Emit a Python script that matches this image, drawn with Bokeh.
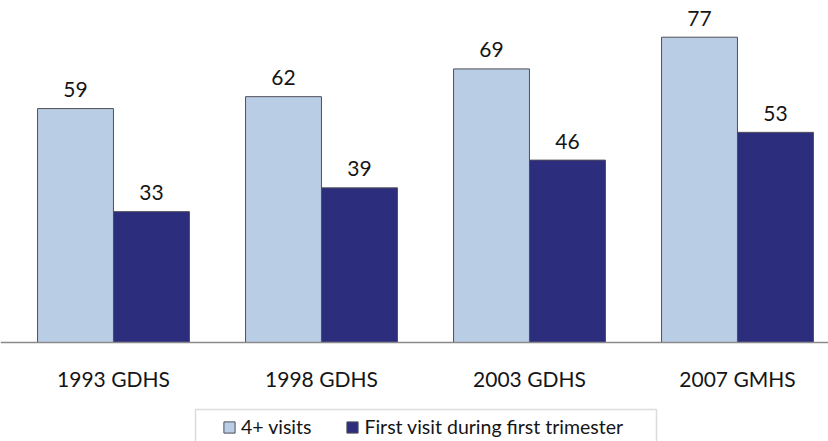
from bokeh.plotting import figure
from bokeh.models import Range1d, Legend, LegendItem, ColumnDataSource, Span, BoxAnnotation
from bokeh.core.properties import value
from bokeh.embed import file_html
from bokeh.resources import INLINE

categories = ["1993 GDHS", "1998 GDHS", "2003 GDHS", "2007 GMHS"]
visits4 = [59, 62, 69, 77]
first_trim = [33, 39, 46, 53]
series_names = ["4+ visits", "First visit during first trimester"]

LIGHT = "#b9cde5"
DARK = "#2d2d7e"
FONT = "Lato"
TXT = "#151515"

idx = list(range(len(categories)))
off = 0.1827
bw = 0.365

# pixel scale helpers (layout only)
X0, XS = 113, 208      # px of first category centre, px per category
Y0, YS = 342, 3.965    # px of value 0, px per unit
W, H = 828, 441

src1 = ColumnDataSource(dict(x=[i - off for i in idx], top=visits4, lab=[str(v) for v in visits4]))
src2 = ColumnDataSource(dict(x=[i + off for i in idx], top=first_trim, lab=[str(v) for v in first_trim]))
srcc = ColumnDataSource(dict(x=idx, y=[0] * len(idx), lab=categories))

p = figure(width=W, height=H, output_backend="svg", toolbar_location=None,
           x_range=Range1d(-X0 / XS, (W - X0) / XS), y_range=Range1d((Y0 - H) / YS, Y0 / YS),
           min_border=0)
p.outline_line_color = None
p.grid.visible = False
p.xaxis.visible = False
p.yaxis.visible = False

r1 = p.vbar(x="x", top="top", bottom=0, width=bw, source=src1, fill_color=LIGHT,
            line_color="#50505a", line_width=1)
r2 = p.vbar(x="x", top="top", bottom=0, width=bw, source=src2, fill_color=DARK,
            line_color="#50505a", line_width=1)

for s in (src1, src2):
    p.text(x="x", y="top", text="lab", source=s, text_align="center", text_baseline="alphabetic",
           y_offset=-19, text_font=value(FONT), text_font_size="21px", text_color=TXT)

# category axis: baseline line and tick labels
p.add_layout(Span(location=0, dimension="width", line_color="#8a8a8a", line_width=1.5))
p.text(x="x", y="y", text="lab", source=srcc, text_align="center", text_baseline="alphabetic",
       y_offset=36, text_font=value(FONT), text_font_size="21px", text_color=TXT)

# legend frame
p.add_layout(BoxAnnotation(left=(195 - X0) / XS, right=(656 - X0) / XS,
                           top=(Y0 - 409) / YS, bottom=-40,
                           fill_alpha=0, line_color="#8a8a8a", line_width=1.5))

legend = Legend(items=[LegendItem(label=series_names[0], renderers=[r1]),
                       LegendItem(label=series_names[1], renderers=[r2])],
                orientation="horizontal", location=(222, 3),
                label_text_font=FONT, label_text_font_size="19.5px", label_text_color=TXT,
                glyph_width=14, glyph_height=14, label_standoff=5, spacing=34,
                padding=6, margin=0, border_line_color=None, background_fill_alpha=0)
p.add_layout(legend, "center")

open("out.html", "w").write(file_html(p, INLINE))
